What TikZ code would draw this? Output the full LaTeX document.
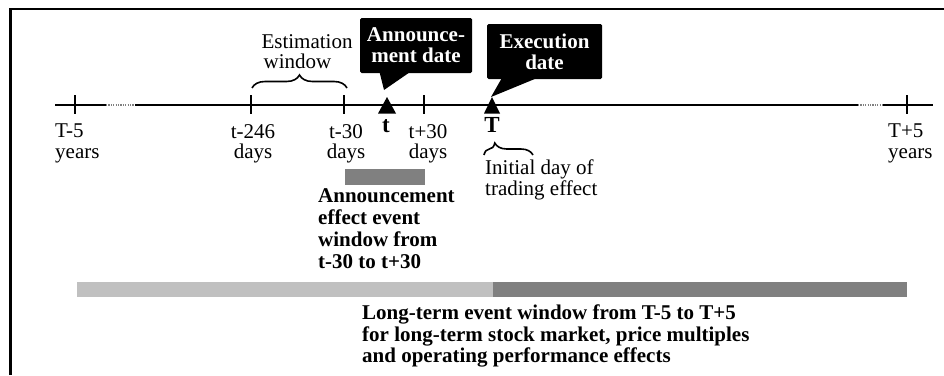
\documentclass[tikz,border=0pt]{standalone}
\usepackage{fontspec}
\setmainfont{Liberation Serif}
\usetikzlibrary{decorations.pathreplacing}
\definecolor{barlight}{HTML}{C0C0C0}
\definecolor{bardark}{HTML}{808080}
\begin{document}
\begin{tikzpicture}[x=1pt,y=-1pt,
  lbl/.style={inner sep=0pt, font=\fontsize{21}{20.5}\selectfont},
  blbl/.style={inner sep=0pt, font=\fontsize{21}{22}\selectfont\bfseries},
  axis/.style={line width=2.2pt},
  dotseg/.style={line width=1.6pt, gray, dash pattern=on 1.2pt off 1.2pt},
  tickmark/.style={line width=2pt},
  bigletter/.style={inner sep=0pt, font=\fontsize{23}{23}\selectfont\bfseries},
  calloutbox/.style={fill=black, text=white, rounded corners=1.5pt, inner sep=0pt,
    align=center, font=\fontsize{21}{21}\selectfont\bfseries},
  bracestyle/.style={line width=1.6pt, decorate},
  barbox/.style={inner sep=0pt, draw=none}]
\useasboundingbox (0,0) rectangle (944,375);
% frame
\draw[line width=2.5pt] (10.5,375) -- (10.5,9) -- (944,9);
% timeline
\coordinate (L0) at (55,105);
\coordinate (D1a) at (106,105);
\coordinate (D1b) at (135,105);
\coordinate (D2a) at (858,105);
\coordinate (D2b) at (883,105);
\coordinate (L1) at (933,105);
\draw[axis] (L0) -- (D1a);
\draw[dotseg] (D1a) -- (D1b);
\draw[axis] (D1b) -- (D2a);
\draw[dotseg] (D2a) -- (D2b);
\draw[axis] (D2b) -- (L1);
% ticks
\foreach \x in {75,251,344,424,907}{\draw[tickmark] (\x,95) -- (\x,114);}
% triangles
\fill (387,97) -- (396,113.5) -- (378,113.5) -- cycle;
\fill (492,97) -- (500,113.5) -- (484,113.5) -- cycle;
% tick labels
\node[lbl, anchor=north west, align=left] (Tm5) at (55,124) {T-5\\years};
\node[lbl, anchor=north, align=center] (l246) at (253,124) {t-246\\days};
\node[lbl, anchor=north, align=center] (l30m) at (346,124) {t-30\\days};
\node[lbl, anchor=north, align=center] (l30p) at (428,124) {t+30\\days};
\node[lbl, anchor=north west, align=left] (Tp5) at (888,124) {T+5\\years};
\node[bigletter, anchor=north] (tlab) at (386,119) {t};
\node[bigletter, anchor=north] (Tlab) at (492,117) {T};
% estimation window
\node[lbl, anchor=base] (est1) at (307,48) {Estimation};
\node[lbl, anchor=base] (est2) at (297.5,68.5) {window};
\draw[bracestyle, decoration={brace, amplitude=13pt}] (252,88) -- (347,88);
% callouts
\node[calloutbox, minimum width=112pt, minimum height=55pt] (ann) at (416,45.5) {Announce-\\ment date};
\fill (379,70) -- (413,70) -- (384,90) -- cycle;
\node[calloutbox, minimum width=115pt, minimum height=55pt] (exe) at (544.5,51.5) {Execution\\date};
\fill (503,76) -- (542,76) -- (491,97) -- cycle;
% initial day
\draw[bracestyle, decoration={brace, amplitude=12pt, aspect=0.22}] (484,155) -- (533,155);
\node[lbl, anchor=north west, align=left, font=\fontsize{21}{21}\selectfont] (init) at (485,160) {Initial day of\\trading effect};
% announcement window
\node[barbox, fill=bardark, minimum width=80pt, minimum height=16pt] (abar) at (385,177) {};
\node[blbl, anchor=north west, align=left] (anntxt) at (318,188) {Announcement\\effect event\\window from\\t-30 to t+30};
% long-term window
\node[barbox, fill=barlight, minimum width=416pt, minimum height=15pt] (lbar1) at (285,289.5) {};
\node[barbox, fill=bardark, minimum width=414pt, minimum height=15pt] (lbar2) at (700,289.5) {};
\node[blbl, anchor=north west, align=left, font=\fontsize{21}{21.5}\selectfont\bfseries] (longtxt) at (362,305) {Long-term event window from T-5 to T+5\\for long-term stock market, price multiples\\and operating performance effects};
\end{tikzpicture}
\end{document}
